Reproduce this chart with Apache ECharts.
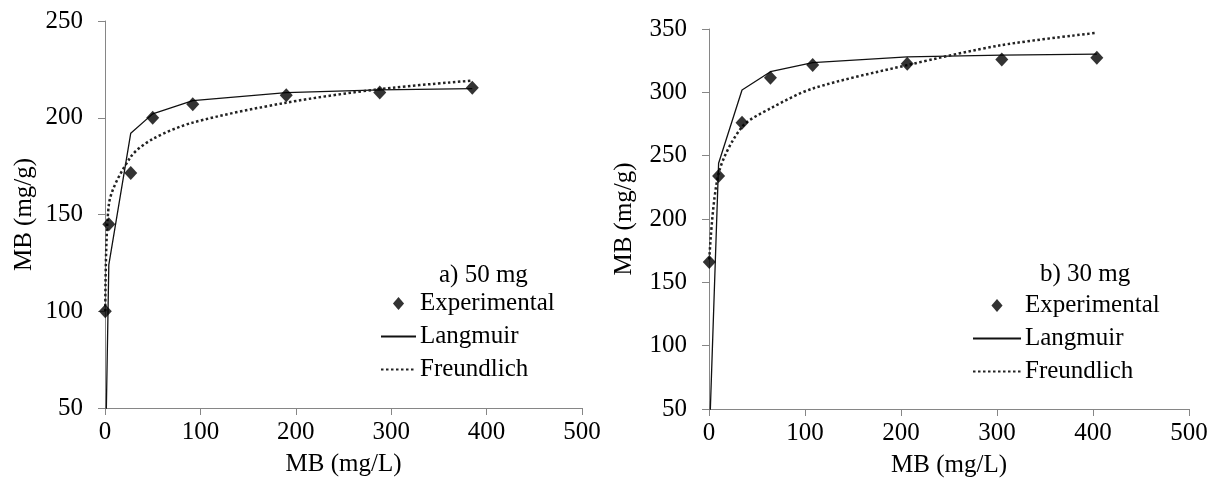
<!DOCTYPE html>
<html>
<head>
<meta charset="utf-8">
<script src="https://cdn.jsdelivr.net/npm/echarts@6/dist/echarts.min.js"></script>
<style>
  html, body { margin: 0; padding: 0; background: #fff; }
  #main { width: 1215px; height: 484px; }
</style>
</head>
<body>
<div id="main"></div>
<script>
// a) 50 mg
var ceA = [0.3, 4, 27, 50, 92, 190, 288, 385];
var expA = [100, 145, 171.5, 200, 207, 211.6, 213, 215.5];
var langA = [18, 124, 192, 202, 208.8, 213, 214.4, 215];
var freuA = [100, 155, 179.8, 189, 197.5, 207.8, 214.8, 219.2];

// b) 30 mg
var ceB = [0.3, 10, 34.4, 64, 108, 206.5, 305, 404];
var expB = [166, 234, 276, 311.5, 321.5, 322.6, 326, 327.3];
var langB = [25, 244, 301.8, 316.3, 323.4, 328, 329.3, 330.2];
var freuB = [168, 236, 272.7, 287.3, 303, 321.5, 337.3, 347];

var xTicks = [0, 100, 200, 300, 400, 500];
var panelTitles = ['a) 50 mg', 'b) 30 mg'];
var seriesNames = ['Experimental', 'Langmuir', 'Freundlich'];

var FONT = 'Liberation Serif';
var AXIS_COLOR = '#868686';
var DIAMOND = 'path://M0,-7 L6,0 L0,7 L-6,0 Z';

function pairs(xs, ys) {
  return xs.map(function (x, i) { return [x, ys[i]]; });
}

function xAxisOpt(idx) {
  return {
    gridIndex: idx,
    type: 'value',
    min: xTicks[0],
    max: xTicks[xTicks.length - 1],
    interval: 100,
    name: 'MB (mg/L)',
    nameLocation: 'middle',
    nameGap: 44,
    nameTextStyle: { fontFamily: FONT, fontSize: 25, color: '#000' },
    axisLine: { lineStyle: { color: AXIS_COLOR, width: 1 } },
    axisTick: { show: true, inside: false, length: 7, lineStyle: { color: AXIS_COLOR } },
    axisLabel: { fontFamily: FONT, fontSize: 25, color: '#000', margin: 12 },
    splitLine: { show: false }
  };
}

function yAxisOpt(idx, max, gap) {
  return {
    gridIndex: idx,
    type: 'value',
    min: 50,
    max: max,
    interval: 50,
    name: 'MB (mg/g)',
    nameLocation: 'middle',
    nameGap: gap,
    nameTextStyle: { fontFamily: FONT, fontSize: 25, color: '#000' },
    axisLine: { show: true, lineStyle: { color: AXIS_COLOR, width: 1 } },
    axisTick: { show: true, inside: false, length: 7, lineStyle: { color: AXIS_COLOR } },
    axisLabel: { fontFamily: FONT, fontSize: 25, color: '#000', margin: 22 },
    splitLine: { show: false }
  };
}

function panelSeries(idx, ce, ex, la, fr) {
  return [{
    name: seriesNames[0],
    type: 'scatter',
    xAxisIndex: idx, yAxisIndex: idx,
    symbol: 'diamond',
    symbolSize: [13, 14],
    itemStyle: { color: '#000' },
    z: 5,
    data: pairs(ce, ex)
  }, {
    name: seriesNames[1],
    type: 'line',
    xAxisIndex: idx, yAxisIndex: idx,
    symbol: 'none',
    smooth: false,
    clip: true,
    lineStyle: { color: '#111', width: 1.3, type: 'solid' },
    itemStyle: { color: '#111' },
    data: pairs(ce, la)
  }, {
    name: seriesNames[2],
    type: 'line',
    xAxisIndex: idx, yAxisIndex: idx,
    symbol: 'none',
    smooth: 0.3,
    clip: true,
    lineStyle: { color: '#222', width: 2.5, type: [2.5, 2.5], cap: 'butt' },
    itemStyle: { color: '#222' },
    data: pairs(ce, fr)
  }];
}

function legendOpt(idx, left, top, w) {
  return {
    data: seriesNames.map(function (n) {
      // diamond keeps its own aspect, line items show only the stroke
      return n === 'Experimental' ? { name: n, icon: DIAMOND } : { name: n, itemStyle: { opacity: 0 } };
    }),
    orient: 'vertical',
    left: left,
    top: top,
    itemWidth: w,
    itemHeight: 13,
    itemGap: 8,
    padding: 0,
    symbolKeepAspect: true,
    selectedMode: false,
    textStyle: { fontFamily: FONT, fontSize: 25, color: '#000', lineHeight: 25, padding: [0, 0, 0, -1] }
  };
}

var chart = echarts.init(document.getElementById('main'), null, { renderer: 'canvas' });

var option = {
  animation: false,
  backgroundColor: '#fff',
  title: [{
    text: panelTitles[0], left: 434, top: 258,
    textStyle: { fontFamily: FONT, fontSize: 25, fontWeight: 'normal', color: '#000' }
  }, {
    text: panelTitles[1], left: 1035, top: 257,
    textStyle: { fontFamily: FONT, fontSize: 25, fontWeight: 'normal', color: '#000' }
  }],
  legend: [legendOpt(0, 380, 291, 35), legendOpt(1, 972, 293, 48)],
  grid: [
    { left: 105, top: 21, width: 477, height: 387 },
    { left: 709, top: 29, width: 480, height: 380 }
  ],
  xAxis: [xAxisOpt(0), xAxisOpt(1)],
  yAxis: [yAxisOpt(0, 250, 68), yAxisOpt(1, 350, 72)],
  series: panelSeries(0, ceA, expA, langA, freuA).concat(panelSeries(1, ceB, expB, langB, freuB))
};

chart.setOption(option);
</script>
</body>
</html>
